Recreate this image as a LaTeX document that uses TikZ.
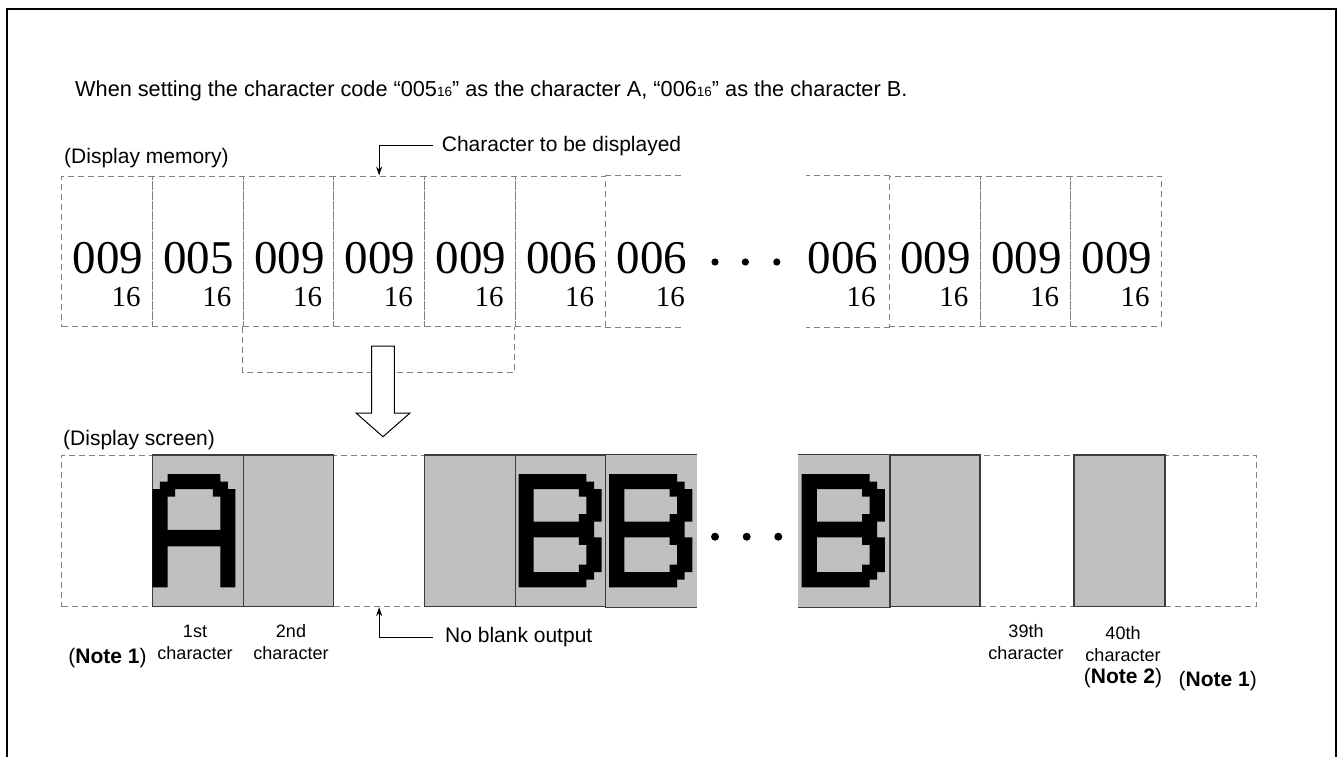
\documentclass[tikz,border=0pt]{standalone}
\usepackage{fontspec}
\setmainfont{Liberation Sans}
\newfontfamily\serifnum{Liberation Serif}
\usepackage{tikz}
\usetikzlibrary{arrows.meta,positioning}
\definecolor{cellgray}{HTML}{C0C0C0}
\definecolor{dashgray}{HTML}{808080}
\definecolor{edgegray}{HTML}{3C3C3C}
\newcommand{\sixteen}{{\fontsize{13.5}{13.5}\selectfont 16}}
\tikzset{
    >={Stealth[length=9pt,width=6pt]},
    dashline/.style={draw=dashgray, line width=1pt, dash pattern=on 6pt off 4pt},
    memcell/.style={dashline, minimum width=90.7pt, minimum height=150.7pt, inner sep=0pt},
    memopen/.style={memcell, draw=none},
    scrwhite/.style={dashline, minimum width=90.7pt, minimum height=151.7pt, inner sep=0pt},
    scrgray/.style={fill=cellgray, draw=edgegray, line width=1.2pt, minimum width=90.7pt, minimum height=151.7pt, inner sep=0pt},
    scrfill/.style={scrgray, draw=none},
    leader/.style={draw, line width=1pt, ->},
    txt/.style={font={\fontsize{21}{25}\selectfont}, inner sep=0pt},
    smalltxt/.style={font={\fontsize{18}{22}\selectfont}, inner sep=0pt, align=center},
    bignum/.style={font={\serifnum\fontsize{47}{47}\selectfont}, anchor=base east, inner sep=0pt},
    subnum/.style={font={\serifnum\fontsize{29}{29}\selectfont}, anchor=base east, inner sep=0pt},
    pics/pixA/.style={code={
        \fill[x=7.55pt, y=-7.55pt, even odd rule]
            (0,2) -- (1,2) -- (1,1) -- (2,1) -- (2,0) -- (9,0) -- (9,1) -- (10,1) -- (10,2) -- (11,2)
            -- (11,15) -- (9,15) -- (9,9.6) -- (2,9.6) -- (2,15) -- (0,15) -- cycle
            (2,3) -- (3,3) -- (3,2) -- (8,2) -- (8,3) -- (9,3) -- (9,7.4) -- (2,7.4) -- cycle;
    }},
    pics/pixB/.style={code={
        \fill[x=7.55pt, y=-7.55pt, even odd rule]
            (0,0) -- (9,0) -- (9,1) -- (10,1) -- (10,2) -- (11,2) -- (11,6.3) -- (10,6.3) -- (10,8.4)
            -- (11,8.4) -- (11,13) -- (10,13) -- (10,14) -- (9,14) -- (9,15) -- (0,15) -- cycle
            (2,2) -- (8,2) -- (8,3) -- (9,3) -- (9,5.3) -- (8,5.3) -- (8,6.3) -- (2,6.3) -- cycle
            (2,8.4) -- (8,8.4) -- (8,9.4) -- (9,9.4) -- (9,12) -- (8,12) -- (8,13) -- (2,13) -- cycle;
    }},
}

\begin{document}
\begin{tikzpicture}[x=1pt, y=-1pt]
\tikzstyle{notetxt} = [txt]
\useasboundingbox (0,0) rectangle (1343,756);

% Frame and title
\draw[line width=2pt] (7,760) -- (7,9) -- (1336,9) -- (1336,760);
\node[txt, anchor=base west, font={\fontsize{21.7}{25}\selectfont}] (title) at (75,96) {When setting the character code “005\sixteen” as the character A, “006\sixteen” as the character B.};

% Display memory
\node[txt, anchor=base west] (memlabel) at (64,163) {(Display memory)};
\foreach \n/\cx/\v in {1/107.05/009, 2/197.75/005, 3/288.45/009, 4/379.15/009, 5/469.85/009, 6/560.55/006, 9/934.65/009, 10/1025.35/009, 11/1116.05/009} {
    \node[memcell] (m\n) at (\cx,251.35) {};
    \node[bignum] (v\n) at (\cx+36.35,273) {\v};
    \node[subnum] (h\n) at (\cx+33.85,306) {16};
}
\node[memopen] (m7) at (651.25,251.35) {};
\node[bignum] (v7) at (651.25+36.35,273) {006};
\node[subnum] (h7) at (651.25+33.85,306) {16};
\node[memopen] (m8) at (843.8,251.35) {};
\node[bignum] (v8) at (843.8+34.5,273) {006};
\node[subnum] (h8) at (843.8+32,306) {16};
\draw[dashline] (m7.north west) -- ++(77,0);
\draw[dashline] (m7.south west) -- ++(77,0);
\draw[dashline] (m8.north east) -- ++(-84,0);
\draw[dashline] (m8.south east) -- ++(-84,0);
\foreach \x in {715,745.4,776.8}
    \fill (\x,262) circle (3.6pt);

\node[txt, anchor=west] (disp) at (441.7,145.7) {Character to be displayed};
\draw[leader] ([xshift=-8.7pt]disp.west) -| (m4.north);

% Read-out window and transfer arrow
\draw[dashline] (m3.south west) -- ++(0,45.3) -| (m6.south west);
\filldraw[fill=white, draw=black, line width=1pt] (371.7,346) -- (394.3,346) -- (394.3,413) -- (410,413)
    -- (383,436.7) -- (356,413) -- (371.7,413) -- cycle;

% Display screen
\node[txt, anchor=base west] (scrlabel) at (63,445) {(Display screen)};
\node[scrwhite] (s1) at (107.05,530.85) {};
\node[scrwhite] (s4) at (379.15,530.85) {};
\node[scrwhite, minimum width=94pt] (s10) at (1027,530.85) {};
\node[scrwhite, minimum width=91pt] (s12) at (1210.5,530.85) {};
\node[scrgray] (s2) at (197.75,530.85) {};
\node[scrgray] (s3) at (288.45,530.85) {};
\node[scrgray] (s5) at (469.85,530.85) {};
\node[scrgray] (s6) at (560.55,530.85) {};
\node[scrfill] (s7) at (651.25,530.85) {};
\node[scrfill, minimum width=91pt] (s8) at (843.8,530.85) {};
\node[scrgray] (s9) at (934.65,530.85) {};
\node[scrgray, minimum width=91pt] (s11) at (1119.5,530.85) {};
\draw[draw=edgegray, line width=1.2pt] (s7.north west) -- (s7.north east) (s7.south west) -- (s7.south east);
\draw[draw=edgegray, line width=1.2pt] (s8.north west) -- (s8.north east) -- (s8.south east) -- (s8.south west);

\pic at (152.4,474) {pixA};
\pic at (518.5,474) {pixB};
\pic at (609.2,474) {pixB};
\pic at (801.7,474) {pixB};
\foreach \x in {715,746.7,778.3}
    \fill (\x,536.7) circle (4pt);

% Labels under the screen
\node[smalltxt] (l1) at (195,642.5) {1st\\character};
\node[smalltxt] (l2) at (291,642.5) {2nd\\character};
\node[notetxt] (n1) at (107.5,658) {(\textbf{Note 1})};
\node[txt, anchor=west] (noblank) at (445,637.3) {No blank output};
\draw[leader] ([xshift=-12.3pt]noblank.west) -| (s4.south);
\node[smalltxt] (l39) at (1026,642.5) {39th\\character};
\node[smalltxt] (l40) at (1123,643.8) {40th\\character};
\node[notetxt] (n2) at (1123,678.3) {(\textbf{Note 2})};
\node[notetxt] (n3) at (1217.7,681) {(\textbf{Note 1})};
\end{tikzpicture}
\end{document}
